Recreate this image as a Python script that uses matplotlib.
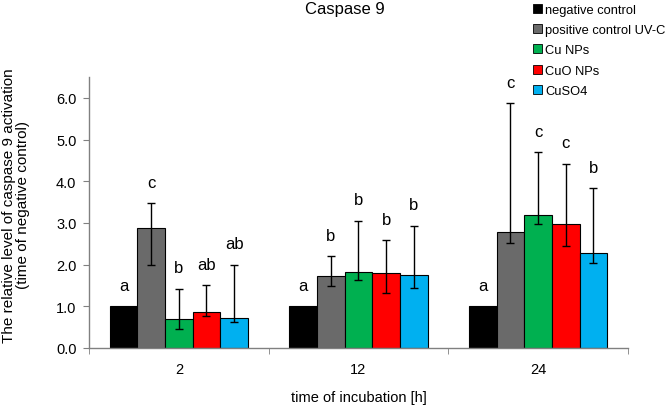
import numpy as np
import matplotlib
matplotlib.use("Agg")
import matplotlib.pyplot as plt
from matplotlib.patches import Patch

plt.rcParams['font.family'] = ['Liberation Sans', 'DejaVu Sans']

groups = ["2", "12", "24"]
series = ["negative control", "positive control UV-C", "Cu NPs", "CuO NPs", "CuSO4"]
colors = ["#000000", "#6a6a6a", "#00b050", "#ff0000", "#00b0f0"]

# bar heights, error bar top and bottom
values = [
    [1.00, 1.00, 1.00],
    [2.89, 1.72, 2.78],
    [0.69, 1.83, 3.19],
    [0.86, 1.81, 2.98],
    [0.71, 1.75, 2.28],
]
err_top = [
    [1.00, 1.00, 1.00],
    [3.47, 2.21, 5.88],
    [1.42, 3.05, 4.70],
    [1.51, 2.58, 4.42],
    [2.00, 2.93, 3.83],
]
err_bottom = [
    [1.00, 1.00, 1.00],
    [2.00, 1.49, 2.51],
    [0.46, 1.63, 2.97],
    [0.77, 1.32, 2.45],
    [0.62, 1.45, 2.04],
]
letters = [
    ["a", "a", "a"],
    ["c", "b", "c"],
    ["b", "b", "c"],
    ["ab", "b", "c"],
    ["ab", "b", "b"],
]

fig = plt.figure(figsize=(6.69, 4.06), dpi=100)
ax = fig.add_axes([0.133, 0.1404, 0.8057, 0.6675])

x = np.arange(len(groups))
w = 0.154
for i, name in enumerate(series):
    pos = x + (i - 2) * w
    vals = np.array(values[i])
    ax.bar(pos, vals, w, color=colors[i], edgecolor="black", linewidth=0.8, zorder=2)
    if i > 0:
        lo = vals - np.array(err_bottom[i])
        hi = np.array(err_top[i]) - vals
        ax.errorbar(pos, vals, yerr=[lo, hi], fmt="none", ecolor="black",
                    elinewidth=1.0, capsize=3, capthick=1.0, zorder=3)
    for j in range(len(groups)):
        top = max(err_top[i][j], values[i][j])
        ax.text(pos[j], top + 0.32, letters[i][j], ha="center", va="bottom", fontsize=12)

ax.set_xlim(-0.5, 2.5)
ax.set_ylim(0, 6.5)
ax.set_yticks(np.arange(0, 6.01, 1.0))
ax.set_yticklabels([f"{v:.1f}" for v in np.arange(0, 6.01, 1.0)], fontsize=10.5)
ax.set_xticks(x)
ax.set_xticklabels(groups, fontsize=10.5)
ax.set_xticks([-0.5, 0.5, 1.5, 2.5], minor=True)
ax.tick_params(axis="x", which="major", length=0, pad=10)
ax.tick_params(axis="x", which="minor", length=4, color="#808080")
ax.tick_params(axis="y", length=4, color="#808080", pad=5)

for s in ["top", "right"]:
    ax.spines[s].set_visible(False)
for s in ["left", "bottom"]:
    ax.spines[s].set_color("#808080")
    ax.spines[s].set_linewidth(1.0)

fig.text(0.536, 0.02, "time of incubation [h]", ha="center", va="center", fontsize=10.5)
fig.text(0.024, 0.494, "The relative level of caspase 9 activation\n(time of negative control)",
         ha="center", va="center", rotation=90, fontsize=11, linespacing=1.05)

fig.text(0.516, 0.995, "Caspase 9", ha="center", va="top", fontsize=12)

handles = [Patch(facecolor=c, edgecolor="black", linewidth=0.6) for c in colors]
fig.legend(handles, series, loc="upper left", bbox_to_anchor=(0.795, 0.99),
           frameon=False, fontsize=9.3, handlelength=0.7, handleheight=0.7,
           handletextpad=0.25, labelspacing=0.62, borderaxespad=0, borderpad=0.1)

fig.savefig("out.png", dpi=100)
